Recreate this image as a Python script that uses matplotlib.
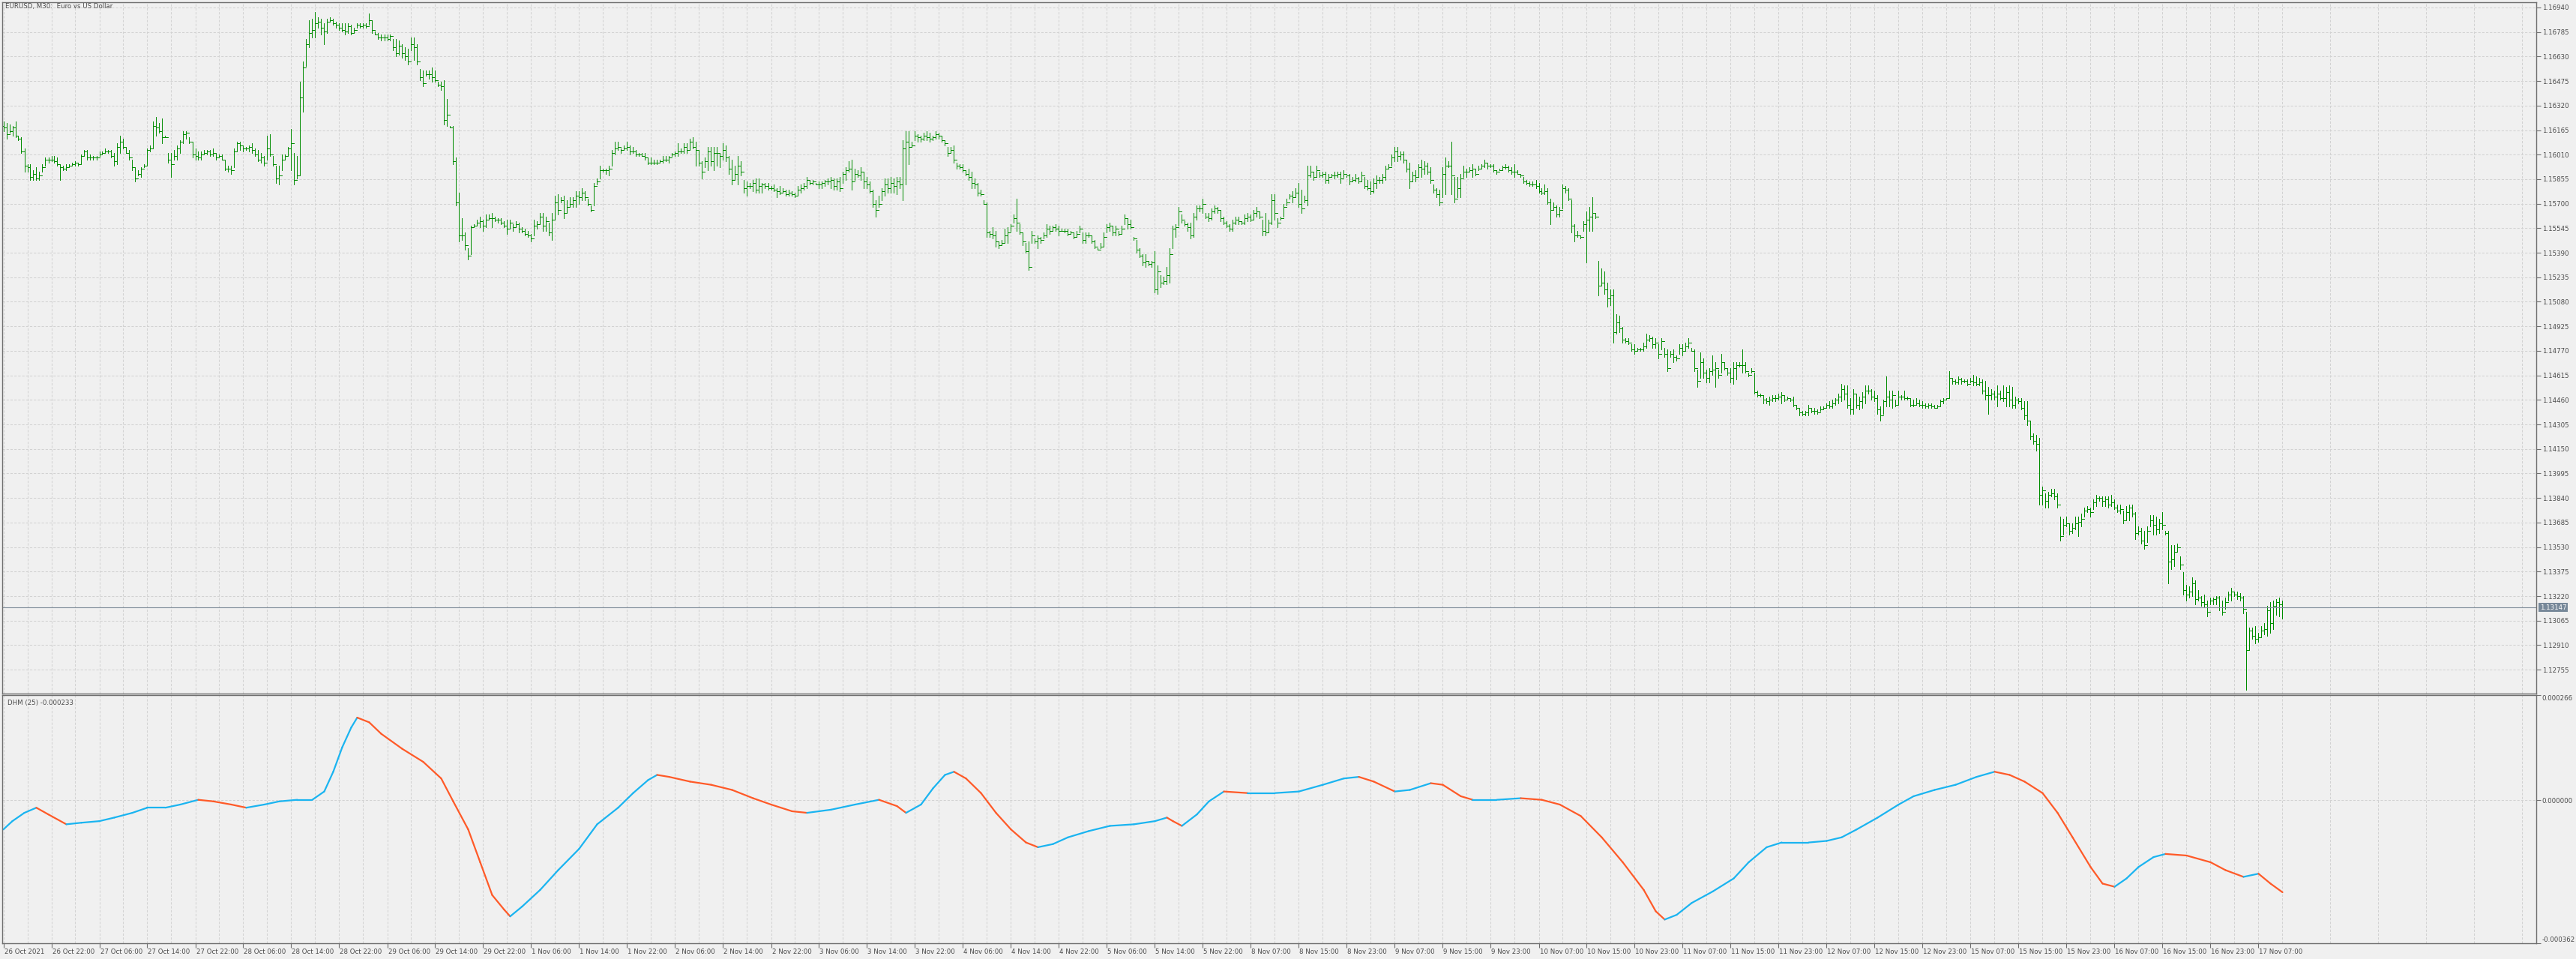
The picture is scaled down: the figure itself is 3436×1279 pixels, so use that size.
import numpy as np
import matplotlib.pyplot as plt
from matplotlib.collections import LineCollection
import matplotlib.transforms as mtransforms

# EURUSD M30 bars, prices in pips above 1.12000
high_pips = [
    422, 421, 420, 419, 422, 413, 412, 405, 395, 395, 391, 393, 390, 395, 399, 399, 400, 400, 399, 395,
    394, 395, 395, 396, 397, 396, 401, 404, 404, 401, 400, 400, 403, 403, 405, 404, 404, 402, 408, 413,
    411, 406, 404, 398, 393, 391, 393, 395, 405, 407, 422, 425, 421, 424, 413, 402, 402, 404, 407, 410,
    416, 416, 412, 409, 405, 403, 403, 404, 404, 404, 405, 402, 401, 401, 398, 394, 394, 405, 409, 409,
    407, 406, 407, 408, 405, 404, 402, 400, 413, 414, 400, 394, 394, 401, 401, 406, 417, 402, 400, 447,
    460, 474, 486, 487, 491, 488, 487, 484, 487, 488, 487, 485, 484, 484, 484, 484, 483, 481, 484, 484,
    484, 484, 490, 486, 479, 478, 477, 477, 477, 477, 474, 474, 473, 471, 469, 468, 475, 475, 471, 455,
    454, 454, 454, 456, 454, 447, 447, 448, 436, 419, 419, 399, 377, 361, 352, 342, 356, 357, 360, 362,
    360, 363, 363, 364, 362, 361, 361, 359, 360, 360, 357, 359, 358, 355, 354, 353, 351, 360, 359, 364,
    364, 362, 358, 364, 375, 376, 374, 375, 372, 374, 374, 378, 378, 380, 378, 373, 369, 383, 386, 394,
    392, 392, 394, 404, 409, 409, 405, 407, 409, 407, 406, 404, 402, 402, 402, 399, 399, 398, 398, 398,
    400, 400, 400, 402, 403, 408, 405, 408, 408, 411, 412, 409, 404, 397, 399, 406, 406, 406, 406, 402,
    408, 407, 400, 398, 394, 400, 397, 385, 384, 383, 385, 386, 386, 383, 383, 383, 381, 382, 380, 381,
    380, 379, 379, 378, 377, 381, 382, 383, 387, 385, 385, 383, 384, 384, 385, 386, 387, 386, 386, 387,
    390, 393, 397, 398, 392, 391, 393, 390, 387, 384, 379, 372, 375, 380, 386, 386, 387, 386, 387, 387,
    410, 416, 416, 409, 416, 414, 413, 415, 416, 415, 413, 416, 415, 413, 410, 406, 406, 407, 396, 395,
    395, 391, 392, 390, 386, 383, 379, 372, 371, 353, 355, 353, 346, 347, 354, 355, 357, 363, 373, 357,
    352, 345, 346, 353, 348, 350, 349, 352, 357, 356, 356, 357, 356, 354, 354, 354, 353, 352, 353, 356,
    352, 352, 352, 350, 347, 342, 345, 352, 357, 358, 356, 356, 353, 356, 363, 361, 360, 349, 347, 342,
    338, 338, 334, 334, 340, 331, 325, 324, 330, 342, 356, 357, 368, 363, 359, 358, 358, 364, 369, 369,
    373, 364, 364, 367, 369, 368, 366, 362, 359, 357, 360, 362, 362, 359, 363, 364, 363, 366, 368, 365,
    360, 364, 360, 376, 376, 361, 362, 370, 373, 376, 378, 380, 383, 379, 375, 394, 394, 390, 394, 390,
    390, 390, 389, 389, 390, 390, 390, 391, 388, 389, 387, 389, 387, 390, 387, 385, 384, 386, 388, 387,
    389, 394, 395, 401, 406, 406, 403, 403, 398, 396, 390, 391, 395, 398, 397, 396, 393, 382, 380, 379,
    393, 399, 397, 409, 387, 387, 389, 394, 392, 393, 395, 392, 394, 395, 398, 396, 395, 395, 391, 392,
    394, 395, 394, 393, 395, 391, 389, 387, 385, 384, 384, 385, 383, 380, 382, 380, 373, 371, 369, 368,
    382, 381, 380, 372, 357, 353, 350, 359, 365, 368, 374, 364, 334, 329, 327, 320, 316, 316, 300, 299,
    292, 285, 285, 281, 281, 279, 279, 282, 288, 287, 286, 285, 281, 285, 279, 278, 277, 278, 274, 281,
    281, 282, 285, 279, 278, 265, 276, 272, 265, 266, 274, 270, 265, 275, 270, 266, 266, 270, 270, 270,
    278, 270, 263, 266, 263, 252, 250, 249, 247, 248, 249, 249, 250, 251, 249, 248, 247, 248, 243, 241,
    239, 239, 243, 241, 241, 240, 242, 242, 244, 245, 246, 247, 250, 256, 255, 255, 247, 253, 250, 248,
    251, 255, 255, 253, 252, 249, 242, 246, 261, 252, 252, 246, 252, 249, 252, 248, 247, 246, 247, 246,
    245, 244, 244, 244, 243, 243, 246, 247, 247, 264, 260, 259, 261, 260, 259, 259, 260, 262, 261, 260,
    259, 258, 254, 253, 252, 255, 252, 255, 254, 255, 254, 248, 247, 247, 245, 245, 233, 225, 224, 222,
    191, 187, 188, 190, 190, 187, 172, 171, 172, 168, 168, 172, 172, 174, 178, 179, 178, 183, 186, 185,
    185, 185, 185, 186, 183, 180, 180, 176, 179, 180, 180, 175, 166, 165, 163, 166, 173, 173, 172, 171,
    175, 163, 163, 154, 154, 155, 147, 137, 129, 128, 134, 132, 126, 122, 123, 119, 121, 121, 122, 122,
    119, 121, 125, 127, 125, 125, 124, 122, 112, 102, 102, 103, 99, 103, 105, 116, 118, 119, 120, 121,
    119,
]
low_pips = [
    416, 411, 415, 413, 412, 410, 402, 390, 390, 385, 385, 385, 385, 390, 394, 396, 397, 396, 394, 385,
    391, 391, 393, 394, 394, 394, 395, 400, 398, 398, 398, 398, 400, 401, 402, 402, 399, 394, 395, 402,
    405, 402, 398, 391, 384, 388, 387, 393, 394, 403, 405, 413, 415, 408, 412, 396, 387, 398, 398, 402,
    408, 411, 408, 399, 398, 398, 398, 401, 401, 400, 400, 398, 399, 398, 391, 390, 389, 393, 403, 404,
    403, 404, 403, 402, 400, 397, 396, 394, 398, 400, 394, 383, 382, 391, 398, 400, 391, 382, 386, 388,
    428, 457, 469, 475, 475, 481, 477, 471, 478, 485, 483, 481, 480, 479, 477, 478, 477, 478, 481, 481,
    481, 481, 483, 478, 477, 474, 473, 473, 473, 473, 467, 463, 464, 462, 461, 458, 467, 461, 458, 448,
    444, 451, 449, 447, 447, 444, 442, 420, 419, 418, 395, 369, 346, 347, 341, 335, 338, 355, 356, 355,
    353, 355, 360, 355, 359, 358, 357, 355, 351, 354, 353, 355, 352, 352, 350, 349, 346, 350, 354, 357,
    353, 353, 350, 347, 360, 363, 371, 361, 364, 368, 368, 368, 370, 372, 372, 369, 365, 369, 382, 386,
    390, 389, 388, 394, 401, 404, 402, 404, 404, 401, 402, 400, 400, 400, 398, 395, 395, 395, 395, 396,
    396, 397, 396, 400, 400, 400, 402, 402, 402, 404, 405, 394, 394, 386, 393, 391, 394, 391, 394, 393,
    398, 397, 389, 382, 385, 382, 388, 377, 375, 380, 378, 377, 377, 377, 380, 379, 379, 378, 374, 376,
    377, 375, 375, 375, 374, 375, 377, 379, 380, 382, 382, 382, 380, 380, 381, 382, 380, 379, 379, 378,
    383, 385, 390, 379, 385, 387, 385, 380, 380, 377, 368, 362, 368, 372, 375, 377, 377, 377, 376, 380,
    372, 382, 395, 406, 410, 409, 409, 410, 410, 409, 410, 411, 411, 409, 407, 400, 402, 396, 392, 392,
    390, 388, 385, 380, 380, 375, 375, 370, 349, 349, 348, 343, 342, 344, 345, 345, 353, 358, 353, 351,
    344, 339, 328, 345, 345, 342, 345, 348, 349, 351, 353, 353, 350, 353, 352, 350, 351, 348, 349, 352,
    345, 345, 349, 345, 342, 341, 342, 343, 352, 353, 350, 350, 350, 351, 357, 354, 354, 347, 339, 336,
    331, 330, 331, 330, 314, 313, 317, 319, 319, 320, 342, 349, 356, 358, 356, 353, 348, 349, 360, 365,
    364, 361, 359, 360, 364, 364, 359, 357, 355, 353, 353, 357, 357, 357, 357, 359, 359, 360, 362, 361,
    350, 350, 352, 357, 360, 355, 360, 362, 369, 373, 371, 374, 368, 364, 371, 369, 387, 385, 387, 387,
    387, 383, 383, 387, 386, 387, 383, 387, 387, 382, 384, 384, 383, 384, 380, 379, 376, 377, 380, 383,
    383, 385, 392, 394, 397, 397, 398, 396, 390, 380, 384, 384, 387, 387, 389, 389, 383, 377, 374, 369,
    374, 376, 393, 376, 371, 374, 374, 387, 387, 390, 387, 388, 391, 392, 393, 392, 393, 390, 389, 391,
    391, 392, 390, 389, 387, 389, 387, 383, 382, 381, 381, 380, 377, 376, 376, 370, 357, 366, 362, 362,
    367, 377, 372, 352, 346, 349, 348, 353, 333, 353, 353, 361, 312, 318, 313, 305, 306, 282, 288, 289,
    282, 282, 281, 277, 275, 277, 277, 277, 279, 283, 279, 279, 272, 278, 273, 264, 273, 270, 271, 275,
    274, 277, 279, 277, 264, 254, 260, 260, 257, 257, 262, 254, 260, 263, 265, 262, 257, 256, 259, 267,
    263, 263, 261, 263, 250, 248, 248, 244, 244, 243, 245, 245, 246, 244, 245, 246, 245, 242, 240, 236,
    236, 236, 236, 238, 237, 237, 239, 240, 241, 241, 241, 243, 244, 245, 246, 241, 237, 237, 241, 240,
    241, 244, 250, 246, 245, 237, 233, 237, 242, 242, 241, 242, 243, 246, 246, 246, 242, 242, 243, 242,
    241, 241, 241, 241, 241, 241, 242, 244, 246, 247, 256, 256, 256, 256, 257, 255, 257, 255, 255, 255,
    250, 246, 237, 246, 246, 242, 246, 245, 242, 242, 241, 241, 244, 240, 234, 230, 221, 218, 214, 180,
    180, 178, 178, 185, 183, 178, 157, 161, 166, 161, 162, 164, 160, 166, 172, 175, 172, 177, 179, 182,
    179, 179, 178, 179, 177, 175, 174, 168, 170, 170, 172, 158, 161, 155, 152, 156, 166, 161, 161, 162,
    164, 161, 130, 139, 141, 150, 139, 123, 119, 121, 122, 117, 119, 116, 115, 109, 117, 117, 117, 113,
    110, 114, 119, 119, 122, 120, 119, 111, 63, 88, 95, 92, 93, 96, 98, 97, 99, 101, 110, 109,
    108,
]
close_pips = [
    418, 414, 416, 418, 413, 411, 403, 394, 393, 387, 389, 386, 388, 393, 398, 398, 398, 397, 395, 393,
    392, 393, 394, 395, 396, 395, 400, 403, 399, 399, 399, 399, 401, 402, 403, 403, 400, 397, 406, 409,
    406, 402, 399, 393, 386, 389, 392, 394, 404, 405, 419, 418, 416, 412, 412, 398, 395, 400, 405, 409,
    414, 415, 409, 401, 400, 399, 401, 402, 403, 401, 402, 399, 400, 398, 392, 392, 391, 403, 408, 407,
    405, 405, 406, 404, 401, 398, 399, 396, 405, 401, 395, 386, 388, 398, 400, 405, 408, 385, 388, 437,
    456, 471, 478, 480, 484, 485, 481, 479, 485, 486, 484, 483, 481, 480, 479, 482, 478, 480, 483, 482,
    483, 482, 486, 480, 477, 475, 475, 475, 474, 476, 469, 465, 470, 465, 463, 460, 471, 469, 460, 450,
    446, 452, 452, 450, 448, 445, 444, 423, 426, 418, 397, 371, 350, 350, 344, 337, 355, 356, 358, 359,
    356, 360, 361, 361, 360, 360, 358, 356, 354, 358, 355, 357, 354, 353, 351, 350, 348, 356, 357, 362,
    356, 359, 352, 360, 371, 366, 372, 364, 368, 370, 372, 375, 374, 377, 374, 370, 366, 381, 384, 391,
    391, 391, 392, 402, 405, 406, 404, 405, 406, 403, 403, 401, 401, 400, 399, 396, 396, 396, 396, 397,
    398, 398, 399, 401, 402, 403, 403, 406, 404, 409, 406, 404, 396, 390, 397, 403, 397, 402, 402, 400,
    404, 399, 392, 385, 389, 394, 390, 380, 381, 381, 383, 379, 381, 382, 381, 380, 380, 379, 378, 377,
    378, 376, 377, 376, 375, 379, 380, 381, 385, 383, 384, 382, 382, 383, 384, 384, 385, 381, 384, 380,
    389, 391, 392, 384, 389, 388, 390, 384, 382, 378, 370, 366, 370, 378, 382, 380, 383, 381, 384, 382,
    405, 409, 406, 407, 413, 412, 411, 413, 412, 411, 412, 414, 413, 410, 408, 402, 404, 398, 394, 393,
    391, 389, 387, 383, 382, 377, 376, 370, 352, 351, 350, 346, 344, 345, 350, 352, 356, 361, 358, 352,
    346, 340, 330, 350, 346, 348, 347, 350, 354, 353, 355, 354, 353, 353, 353, 351, 352, 349, 351, 354,
    347, 350, 350, 346, 343, 341, 343, 349, 355, 356, 352, 354, 351, 354, 361, 357, 355, 348, 341, 337,
    333, 334, 332, 333, 316, 327, 320, 321, 325, 338, 354, 355, 365, 360, 357, 355, 350, 362, 367, 367,
    370, 362, 361, 365, 367, 366, 361, 358, 356, 354, 358, 360, 359, 358, 361, 362, 360, 364, 365, 362,
    353, 352, 358, 372, 364, 358, 361, 368, 371, 375, 374, 377, 370, 367, 372, 388, 390, 387, 391, 388,
    389, 385, 387, 388, 388, 389, 386, 389, 388, 384, 385, 386, 384, 388, 381, 380, 378, 383, 385, 385,
    387, 392, 393, 399, 403, 400, 401, 398, 392, 384, 388, 387, 393, 392, 394, 390, 385, 379, 376, 371,
    389, 394, 394, 388, 373, 380, 386, 390, 390, 391, 392, 389, 392, 394, 396, 394, 394, 391, 390, 391,
    393, 393, 391, 390, 390, 389, 388, 384, 383, 382, 382, 381, 378, 377, 378, 371, 366, 368, 363, 366,
    380, 379, 373, 356, 350, 350, 349, 357, 360, 362, 364, 362, 318, 320, 316, 310, 312, 289, 295, 291,
    284, 283, 282, 278, 277, 278, 278, 280, 284, 285, 281, 282, 275, 283, 275, 266, 275, 273, 272, 279,
    277, 280, 282, 277, 266, 258, 270, 263, 260, 264, 265, 266, 262, 270, 266, 263, 260, 266, 268, 268,
    268, 264, 262, 264, 251, 249, 249, 246, 245, 246, 247, 247, 248, 249, 246, 247, 246, 243, 241, 238,
    237, 238, 241, 239, 239, 238, 240, 241, 243, 242, 244, 246, 248, 253, 250, 243, 240, 250, 243, 245,
    248, 252, 252, 248, 247, 240, 236, 245, 248, 246, 249, 243, 248, 248, 247, 247, 243, 243, 244, 243,
    243, 242, 243, 242, 241, 242, 245, 246, 247, 260, 258, 257, 259, 258, 258, 256, 258, 257, 256, 257,
    252, 249, 249, 250, 248, 250, 247, 247, 251, 246, 243, 246, 245, 241, 236, 233, 223, 220, 218, 186,
    189, 182, 186, 187, 185, 180, 160, 167, 168, 163, 165, 168, 169, 171, 176, 177, 175, 181, 184, 184,
    182, 183, 180, 181, 178, 176, 177, 170, 175, 178, 174, 162, 163, 157, 154, 163, 170, 167, 164, 168,
    167, 162, 144, 145, 150, 153, 142, 126, 123, 125, 130, 120, 121, 118, 117, 112, 119, 120, 121, 115,
    112, 118, 123, 125, 123, 122, 121, 114, 88, 100, 97, 95, 96, 100, 101, 113, 105, 116, 118, 117,
    115,
]
first_open_pips = 419
last_price = 1.13147

price_ticks = [1.16940, 1.16785, 1.16630, 1.16475, 1.16320, 1.16165, 1.16010, 1.15855, 1.15700,
               1.15545, 1.15390, 1.15235, 1.15080, 1.14925, 1.14770, 1.14615, 1.14460, 1.14305,
               1.14150, 1.13995, 1.13840, 1.13685, 1.13530, 1.13375, 1.13220, 1.13065, 1.12910,
               1.12755]

# DHM(25) indicator (bar index, value in 1e-6)
dhm_bars = [0, 3, 7, 11, 15, 21, 26, 32, 37, 43,
            48, 54, 59, 65, 70, 76, 81, 87, 92, 98,
            103, 107, 110, 113, 116, 118, 122, 126, 133, 140,
            146, 150, 155, 159, 163, 167, 169, 173, 179, 185,
            192, 198, 205, 210, 215, 218, 222, 229, 236, 243,
            250, 256, 263, 268, 276, 284, 292, 298, 301, 306,
            310, 314, 317, 321, 326, 331, 336, 341, 345, 350,
            355, 362, 369, 377, 384, 388, 390, 393, 398, 402,
            407, 415, 424, 432, 440, 447, 452, 457, 464, 469,
            476, 480, 486, 490, 498, 506, 513, 519, 526, 533,
            540, 547, 551, 554, 558, 563, 570, 577, 582, 588,
            593, 602, 608, 613, 618, 625, 632, 637, 644, 651,
            658, 664, 669, 674, 680, 685, 690, 696, 700, 704,
            708, 712, 717, 721, 728, 736, 741, 747, 752, 756,
            760]
dhm_values = [-74, -53, -32, -19, -36, -61, -57, -53, -44, -32,
              -19, -19, -11, 1, -3, -11, -19, -11, -3, 1,
              1, 22, 72, 134, 184, 209, 197, 168, 130, 97,
              55, -3, -74, -157, -240, -277, -294, -269, -227, -177,
              -123, -61, -19, 18, 51, 64, 59, 47, 39, 26,
              5, -11, -28, -32, -24, -11, 1, -15, -32, -11,
              30, 64, 72, 55, 18, -32, -74, -107, -119, -111,
              -94, -78, -65, -61, -53, -44, -53, -65, -36, -3,
              22, 18, 18, 22, 39, 55, 59, 47, 22, 26,
              43, 39, 10, 1, 1, 5, 1, -11, -40, -94,
              -157, -227, -281, -302, -290, -260, -231, -198, -157, -119,
              -107, -107, -103, -94, -74, -44, -11, 10, 26, 39,
              59, 72, 64, 47, 18, -32, -94, -169, -211, -219,
              -198, -169, -144, -136, -140, -157, -177, -194, -186, -211,
              -233]
dhm_ticks = [0.000266, 0.0, -0.000362]
dhm_tick_labels = ["0.000266", "0.000000", "-0.000362"]

time_labels = ["26 Oct 2021", "26 Oct 22:00", "27 Oct 06:00", "27 Oct 14:00", "27 Oct 22:00",
               "28 Oct 06:00", "28 Oct 14:00", "28 Oct 22:00", "29 Oct 06:00", "29 Oct 14:00",
               "29 Oct 22:00", "1 Nov 06:00", "1 Nov 14:00", "1 Nov 22:00", "2 Nov 06:00",
               "2 Nov 14:00", "2 Nov 22:00", "3 Nov 06:00", "3 Nov 14:00", "3 Nov 22:00",
               "4 Nov 06:00", "4 Nov 14:00", "4 Nov 22:00", "5 Nov 06:00", "5 Nov 14:00",
               "5 Nov 22:00", "8 Nov 07:00", "8 Nov 15:00", "8 Nov 23:00", "9 Nov 07:00",
               "9 Nov 15:00", "9 Nov 23:00", "10 Nov 07:00", "10 Nov 15:00", "10 Nov 23:00",
               "11 Nov 07:00", "11 Nov 15:00", "11 Nov 23:00", "12 Nov 07:00", "12 Nov 15:00",
               "12 Nov 23:00", "15 Nov 07:00", "15 Nov 15:00", "15 Nov 23:00", "16 Nov 07:00",
               "16 Nov 15:00", "16 Nov 23:00", "17 Nov 07:00"]

BG = "#f0f0f0"
GRID = "#d2d2d2"
FRAME = "#6e6e6e"
TXT = "#4a4a4a"
BAR = "#008c00"
UP = "#1ab4f0"
DOWN = "#ff5a28"

plt.rcParams["font.family"] = ["DejaVu Sans"]
plt.rcParams["font.size"] = 6.2

W, H = 3436, 1279
fig = plt.figure(figsize=(W / 100, H / 100), dpi=100, facecolor=BG)
ax = fig.add_axes([3 / W, 1 - 925 / H, 3380 / W, 922 / H], facecolor=BG)
ax2 = fig.add_axes([3 / W, 21 / H, 3380 / W, 331 / H], facecolor=BG)

high = 1.12 + np.array(high_pips) / 10000
low = 1.12 + np.array(low_pips) / 10000
close = 1.12 + np.array(close_pips) / 10000
opn = np.concatenate([[1.12 + first_open_pips / 10000], close[:-1]])
idx = np.arange(len(close))

segs = []
for i in idx:
    segs.append([(i, low[i]), (i, high[i])])
    segs.append([(i - 0.3, opn[i]), (i, opn[i])])
    segs.append([(i, close[i]), (i + 0.3, close[i])])
ax.add_collection(LineCollection(segs, colors=BAR, linewidths=0.72, antialiased=False))

xlim = (-0.375, 844.625)
for a in (ax, ax2):
    a.set_xlim(*xlim)
    a.set_xticks(np.arange(len(time_labels)) * 16)
    a.set_xticks(np.arange(len(time_labels) + 5) * 16 + 8, minor=True)
    a.grid(True, which="both", axis="x", color=GRID, linestyle=(0, (3, 2)), linewidth=0.75)
    a.set_axisbelow(True)
    for s in a.spines.values():
        s.set_color(FRAME)
        s.set_linewidth(1.0)
    a.yaxis.tick_right()
    a.tick_params(axis="y", direction="out", length=4, width=0.8, color=FRAME,
                  labelcolor=TXT, labelsize=6.2, pad=1.5)
    a.tick_params(axis="x", which="minor", length=0)

ax.set_ylim(1.12604, 1.16973)
ax.set_yticks(price_ticks)
ax.set_yticklabels([f"{v:.5f}" for v in price_ticks])
ax.grid(True, axis="y", color=GRID, linestyle=(0, (3, 2)), linewidth=0.75)
ax.tick_params(axis="x", which="major", length=0, labelbottom=False)

# current price line and label
ax.axhline(last_price, color="#7f8c99", linewidth=0.8)
tr = mtransforms.blended_transform_factory(ax.transAxes, ax.transData)
ax.text(1.0 + 5 / 3380, last_price, f"{last_price:.5f}", transform=tr, ha="left", va="center",
        color="white", fontsize=6.2,
        bbox=dict(boxstyle="square,pad=0.18", fc="#778899", ec="none"))

fig.text(7 / W, 1 - 4 / H, "EURUSD, M30:  Euro vs US Dollar", ha="left", va="top",
         color=TXT, fontsize=6.2)

# indicator panel, blue while rising and orange while falling
xb = np.array(dhm_bars, dtype=float)
yv = np.array(dhm_values) * 1e-6
pts = np.column_stack([xb, yv])
dseg = np.stack([pts[:-1], pts[1:]], axis=1)
cols = [UP if yv[k + 1] >= yv[k] else DOWN for k in range(len(yv) - 1)]
ax2.add_collection(LineCollection(dseg, colors=cols, linewidths=1.6, capstyle="round"))

ax2.set_ylim(-0.000362, 0.000266)
ax2.set_yticks(dhm_ticks)
ax2.set_yticklabels(dhm_tick_labels)
labs = ax2.get_yticklabels()
labs[0].set_va("top")
labs[2].set_va("bottom")
ax2.axhline(0, color=GRID, linestyle=(0, (3, 2)), linewidth=0.75, zorder=0)
ax2.set_xticklabels(time_labels, ha="left")
ax2.tick_params(axis="x", which="major", direction="out", length=4, width=0.8, color=FRAME,
                labelcolor=TXT, labelsize=6.2, pad=1)
offset = mtransforms.ScaledTranslation(1 / 100, 0, fig.dpi_scale_trans)
for t in ax2.get_xticklabels():
    t.set_transform(t.get_transform() + offset)

ax2.text(7 / 3380, 1 - 6 / 331, "DHM (25) -0.000233", transform=ax2.transAxes, ha="left",
         va="top", color=TXT, fontsize=6.2)

fig.savefig("out.png", dpi=100, facecolor=BG)
